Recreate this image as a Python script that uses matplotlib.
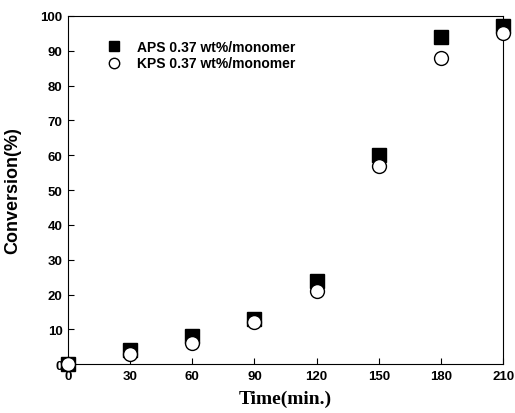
import matplotlib
matplotlib.use("Agg")
import matplotlib.pyplot as plt

time_min = [0, 30, 60, 90, 120, 150, 180, 210]
aps = [0, 4, 8, 13, 24, 60, 94, 97]
kps = [0, 3, 6, 12, 21, 57, 88, 95]
aps_label = "APS 0.37 wt%/monomer"
kps_label = "KPS 0.37 wt%/monomer"
xticks = [0, 30, 60, 90, 120, 150, 180, 210]
yticks = [0, 10, 20, 30, 40, 50, 60, 70, 80, 90, 100]

fig = plt.figure(figsize=(5.15, 4.14), dpi=100)
ax = fig.add_axes([0.132, 0.118, 0.845, 0.841])

ax.plot(time_min, aps, linestyle="none", marker="s", markersize=9.5,
        markerfacecolor="black", markeredgecolor="black", clip_on=False,
        zorder=3, label=aps_label)
ax.plot(time_min, kps, linestyle="none", marker="o", markersize=10,
        markerfacecolor="white", markeredgecolor="black", markeredgewidth=1.0,
        clip_on=False, zorder=4, label=kps_label)

ax.set_xlim(0, 210)
ax.set_ylim(0, 100)
ax.set_xticks(xticks)
ax.set_yticks(yticks)
tick_font = {"family": "Liberation Sans", "weight": "bold", "size": 9.5}
ax.set_xticklabels([str(t) for t in xticks], fontdict=tick_font)
ax.set_yticklabels([str(t) for t in yticks], fontdict=tick_font)
ax.tick_params(direction="in", length=4, width=0.8, pad=4)
for s in ax.spines.values():
    s.set_linewidth(0.8)

ax.set_xlabel("Time(min.)", fontdict={"family": "Liberation Serif", "weight": "bold", "size": 14},
              labelpad=6)
ax.set_ylabel("Conversion(%)", fontdict={"family": "Liberation Sans", "weight": "bold", "size": 13},
              labelpad=14)

leg = ax.legend(loc="upper left", bbox_to_anchor=(0.06, 0.968), frameon=False,
                prop={"family": "Liberation Sans", "weight": "bold", "size": 10},
                handletextpad=1.2, labelspacing=0.2, handlelength=1.0,
                markerscale=0.75)

fig.savefig("out.png", dpi=100)
